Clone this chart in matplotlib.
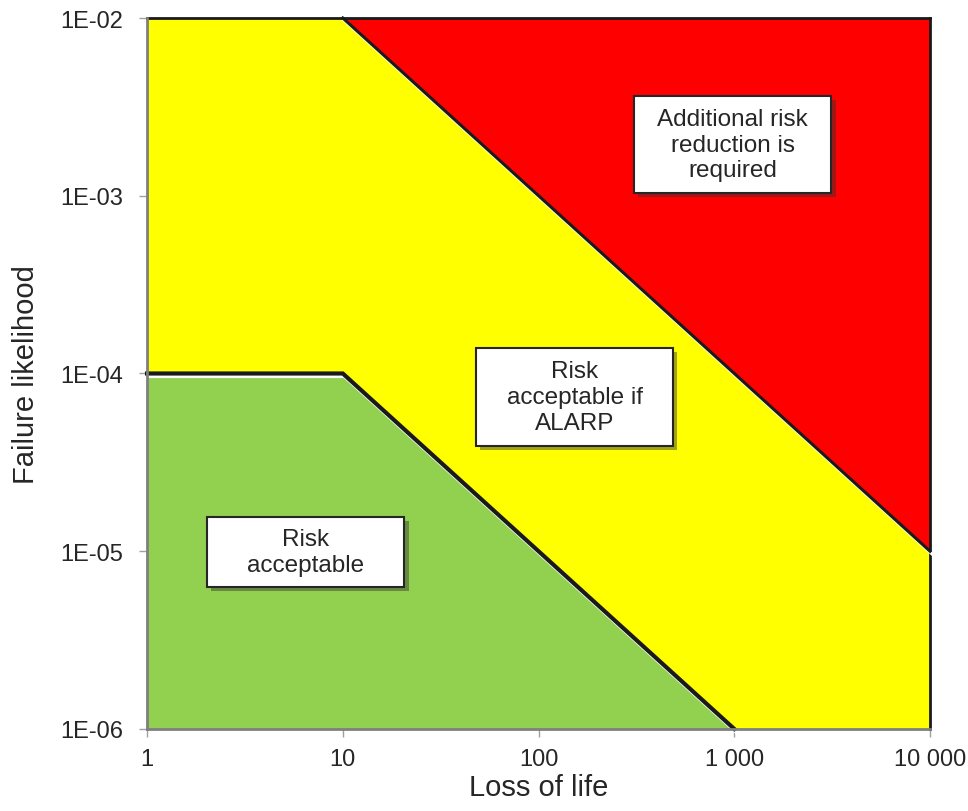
import matplotlib
matplotlib.use('Agg')
import matplotlib.pyplot as plt
import matplotlib.patheffects as pe
from matplotlib.patches import Rectangle

plt.rcParams['font.family'] = ['Liberation Sans', 'DejaVu Sans']

# 数据
x_ticks = [1, 10, 100, 1000, 10000]
x_labels = ['1', '10', '100', '1 000', '10 000']
y_ticks = [1e-6, 1e-5, 1e-4, 1e-3, 1e-2]
y_labels = ['1E-06', '1E-05', '1E-04', '1E-03', '1E-02']

# 可接受区 (绿色) 上边界
green_x = [1, 10, 1000]
green_y = [1e-4, 1e-4, 1e-6]
# 不可接受区 (红色) 下边界
red_x = [10, 10000]
red_y = [1e-2, 1e-5]

region_text = ['Additional risk\nreduction is\nrequired',
               'Risk\nacceptable if\nALARP',
               'Risk\nacceptable']

fig = plt.figure(figsize=(9.68, 8.12), dpi=100)
ax = fig.add_axes([0.1519, 0.1010, 0.8089, 0.8756])
ax.set_xscale('log')
ax.set_yscale('log')
ax.set_xlim(x_ticks[0], x_ticks[-1])
ax.set_ylim(y_ticks[0], y_ticks[-1])
ax.set_facecolor('#FFFF00')

# 区域填充
ax.fill([green_x[0]] + green_x + [green_x[-1]],
        [y_ticks[0]] + green_y + [y_ticks[0]], color='#92D050', lw=0, zorder=1)
ax.fill(red_x + [red_x[-1]], red_y + [y_ticks[-1]], color='#FF0000', lw=0, zorder=1)

shadow = [pe.SimpleLineShadow(offset=(1.2, -1.8), shadow_color='white', alpha=1.0), pe.Normal()]
ax.plot(green_x, green_y, color='#1a1a1a', lw=3.0, solid_joinstyle='miter',
        path_effects=shadow, zorder=3, clip_on=False)
ax.plot(red_x, red_y, color='#1a1a1a', lw=2.2, path_effects=shadow, zorder=3, clip_on=False)

# 文本框 (axes 坐标)
boxes = [(0.622, 0.754, 0.252, 0.136),
         (0.420, 0.398, 0.252, 0.138),
         (0.0766, 0.200, 0.252, 0.098)]
for (bx, by, bw, bh), txt in zip(boxes, region_text):
    r = Rectangle((bx, by), bw, bh, transform=ax.transAxes, facecolor='white',
                  edgecolor='#262626', lw=1.5, zorder=4,
                  path_effects=[pe.SimplePatchShadow(offset=(3, -3), shadow_rgbFace='#333333', alpha=0.45),
                                pe.Normal()])
    ax.add_patch(r)
    ax.text(bx + bw / 2, by + bh / 2, txt, transform=ax.transAxes, ha='center', va='center',
            fontsize=17.5, color='#262626', linespacing=1.22, zorder=5)

ax.set_xticks(x_ticks)
ax.set_xticklabels(x_labels)
ax.set_yticks(y_ticks)
ax.set_yticklabels(y_labels)
ax.minorticks_off()
ax.tick_params(axis='both', length=6, width=1, color='#a0a0a0', labelsize=17,
               labelcolor='#262626', pad=8)
ax.tick_params(axis='y', pad=11)

for s in ['left', 'bottom']:
    ax.spines[s].set_color('#7f7f7f')
    ax.spines[s].set_linewidth(2)
    ax.spines[s].set_zorder(6)
for s in ['top', 'right']:
    ax.spines[s].set_color('#1a1a1a')
    ax.spines[s].set_linewidth(2)

ax.set_xlabel('Loss of life', fontsize=21, color='#262626', labelpad=2)
ax.set_ylabel('Failure likelihood', fontsize=21, color='#262626', labelpad=15)

plt.savefig('out.png', dpi=100)
